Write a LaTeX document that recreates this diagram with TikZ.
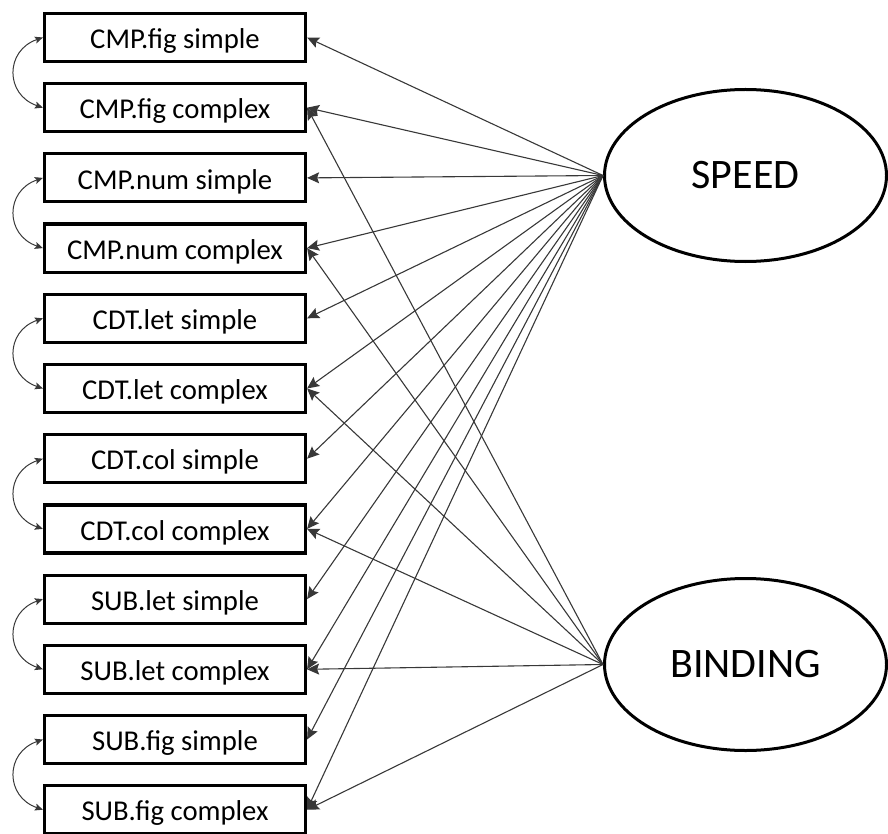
\documentclass[tikz,border=0pt]{standalone}
\usepackage{fontspec}
\setmainfont{Carlito}
\usetikzlibrary{arrows.meta,shapes.geometric}

\tikzset{
  obsbox/.style={draw=black, line width=3.2pt, rectangle, minimum width=261pt,
    minimum height=48pt, inner sep=0pt, text height=25pt, text depth=2.5pt,
    font=\fontsize{28.7}{34}\selectfont},
  latent/.style={draw=black, line width=3pt, ellipse, minimum width=282pt,
    minimum height=172pt, inner sep=0pt, font=\fontsize{42}{50}\selectfont},
  loading/.style={draw=black!78, line width=1.1pt,
    -{Stealth[length=12pt,width=11pt,inset=2pt]}},
  covar/.style={draw=black!78, line width=1pt,
    {Stealth[length=8pt,width=7pt,inset=1.5pt]}-{Stealth[length=8pt,width=7pt,inset=1.5pt]}}
}

\begin{document}
\begin{tikzpicture}[x=1pt,y=-1pt]
  \useasboundingbox (0,0) rectangle (888,834);

  % observed indicators
  \foreach \name/\txt [count=\i from 0] in {
      a/CMP.fig simple, b/CMP.fig complex,
      c/CMP.num simple, d/CMP.num complex,
      e/CDT.let simple, f/CDT.let complex,
      g/CDT.col simple, h/CDT.col complex,
      k/SUB.let simple, l/SUB.let complex,
      m/SUB.fig simple, n/SUB.fig complex}
    \node[obsbox] (\name) at (175, 37.5+70.2*\i) {\txt};

  % latent factors
  \node[latent] (speed) at (745.5,175.5) {SPEED};
  \node[latent] (binding) at (745.5,664.5) {BINDING};

  % SPEED loads on every indicator
  \foreach \name in {a,b,c,d,e,f,g,h,k,l,m,n}
    \draw[loading] (speed.west) -- (\name.east);

  % BINDING loads on the complex conditions
  \foreach \name in {b,d,f,h,l,n}
    \draw[loading] (binding.west) -- (\name.east);

  % residual covariances between simple and complex versions
  \foreach \p/\q in {a/b, c/d, e/f, g/h, k/l, m/n}
    \draw[covar] (\p.west) .. controls +(-38,13) and +(-38,-13) .. (\q.west);
\end{tikzpicture}
\end{document}
